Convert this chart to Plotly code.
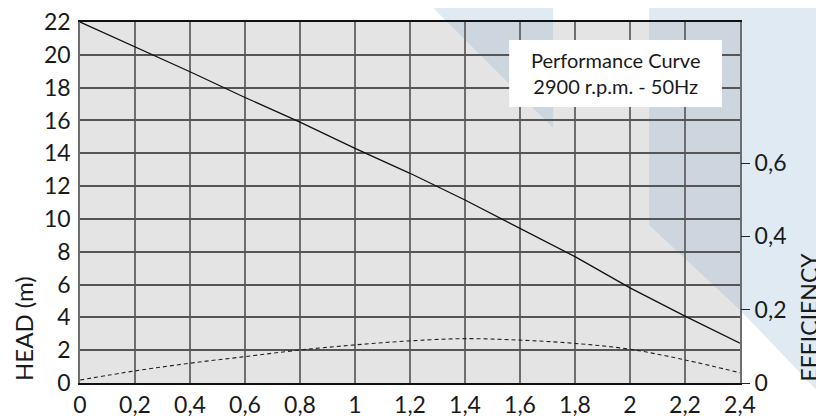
import plotly.graph_objects as go

# ---- data ----
flow = [0, 0.2, 0.4, 0.6, 0.8, 1.0, 1.2, 1.4, 1.6, 1.8, 2.0, 2.2, 2.4]
head = [22, 20.5, 18.97, 17.4, 15.9, 14.3, 12.78, 11.15, 9.43, 7.7, 5.8, 4.08, 2.42]
efficiency = [0.008, 0.033, 0.054, 0.072, 0.090, 0.104, 0.115, 0.121, 0.117, 0.108, 0.092, 0.063, 0.028]

x_tickvals = [0, 0.2, 0.4, 0.6, 0.8, 1.0, 1.2, 1.4, 1.6, 1.8, 2.0, 2.2, 2.4]
x_ticktext = ["0", "0,2", "0,4", "0,6", "0,8", "1", "1,2", "1,4", "1,6", "1,8", "2", "2,2", "2,4"]
y_tickvals = [0, 2, 4, 6, 8, 10, 12, 14, 16, 18, 20, 22]
y2_tickvals = [0, 0.2, 0.4, 0.6]
y2_ticktext = ["0", "0,2", "0,4", "0,6"]

# ---- layout geometry (page body adds an 8px offset) ----
OFF = 8
W, H = 824 - OFF, 416 - OFF
PL, PR, PT, PB = 79.5, 740, 22, 383          # plot edges in window pixels
ML, MR, MT, MB = PL - OFF, W - (PR - OFF), PT - OFF, H - (PB - OFF)
PW, PH = W - ML - MR, H - MT - MB
FONT = "Lato"


def px(x):
    return (x - OFF - ML) / PW


def py(y):
    return (H - MB - (y - OFF)) / PH


def path(pts):
    return "M " + " L ".join(f"{px(a):.4f},{py(b):.4f}" for a, b in pts) + " Z"


BLUE = "#dfeaf3"
BLUE_IN = "#cdd6de"
GRAY = "#e4e4e4"

shapes = [
    dict(type="path", xref="paper", yref="paper", layer="below", line=dict(width=0),
         fillcolor=BLUE, path=path([(430, 5), (553, 5), (553, 128)])),
    dict(type="path", xref="paper", yref="paper", layer="below", line=dict(width=0),
         fillcolor=BLUE, path=path([(649, 5), (828, 5), (828, 402), (740, 310), (649, 225)])),
    dict(type="rect", xref="paper", yref="paper", layer="below", line=dict(width=0),
         fillcolor=GRAY, x0=0, x1=1, y0=0, y1=1),
    dict(type="path", xref="paper", yref="paper", layer="below", line=dict(width=0),
         fillcolor=BLUE_IN, path=path([(447, 22), (553, 22), (553, 128)])),
    dict(type="path", xref="paper", yref="paper", layer="below", line=dict(width=0),
         fillcolor=BLUE_IN, path=path([(649, 22), (740, 22), (740, 310), (649, 225)])),
    dict(type="rect", xref="paper", yref="paper", layer="above", line=dict(width=0),
         fillcolor="white", x0=px(509), x1=px(722), y0=py(107), y1=py(40)),
]

fig = go.Figure()
fig.add_trace(go.Scatter(x=flow, y=head, mode="lines", line=dict(color="#111111", width=1.3),
                         showlegend=False, hoverinfo="skip"))
fig.add_trace(go.Scatter(x=flow, y=efficiency, mode="lines", yaxis="y2", line_shape="spline",
                         line=dict(color="#222222", width=1.1, dash="4px,3px"),
                         showlegend=False, hoverinfo="skip"))

fig.update_layout(
    width=W, height=H,
    margin=dict(l=ML, r=MR, t=MT, b=MB, pad=0, autoexpand=False),
    paper_bgcolor="white",
    plot_bgcolor="rgba(0,0,0,0)",
    font=dict(family=FONT, size=23, color="#1a1a1a"),
    shapes=shapes,
    xaxis=dict(range=[0, 2.4], tickvals=x_tickvals, ticktext=x_ticktext, automargin=False,
               ticklabeloverflow="allow",
               showgrid=True, gridcolor="#6e6e6e", gridwidth=1.6,
               zeroline=False, showline=True, mirror=True, linecolor="#111111", linewidth=1.5,
               ticks="outside", ticklen=1, tickcolor="rgba(0,0,0,0)",
               tickfont=dict(family=FONT, size=23, color="#1a1a1a")),
    yaxis=dict(range=[0, 22], tickvals=y_tickvals, automargin=False,
               ticklabeloverflow="allow",
               showgrid=True, gridcolor="#555555", gridwidth=1.5,
               zeroline=False, showline=True, mirror=True, linecolor="#6e6e6e", linewidth=1.6,
               ticks="outside", ticklen=3, tickcolor="rgba(0,0,0,0)",
               tickfont=dict(family=FONT, size=23, color="#1a1a1a")),
    yaxis2=dict(range=[0, 0.985], overlaying="y", side="right", tickvals=y2_tickvals,
                ticktext=y2_ticktext, automargin=False, ticklabeloverflow="allow",
                showgrid=False, zeroline=False, showline=False,
                ticks="outside", ticklen=9, tickcolor="#222222", tickwidth=1,
                tickfont=dict(family=FONT, size=23, color="#1a1a1a")),
    annotations=[
        dict(text="HEAD (m)", xref="paper", yref="paper", x=px(23), y=0, textangle=-90,
             xanchor="center", yanchor="bottom", showarrow=False,
             font=dict(family=FONT, size=24, color="#1a1a1a")),
        dict(text="EFFICIENCY", xref="paper", yref="paper", x=px(809), y=0, textangle=-90,
             xanchor="center", yanchor="bottom", showarrow=False,
             font=dict(family=FONT, size=23, color="#1a1a1a")),
        dict(text="Performance Curve<br>2900 r.p.m. - 50Hz", xref="paper", yref="paper",
             x=px(615.5), y=py(73.5), xanchor="center", yanchor="middle", showarrow=False,
             align="center", font=dict(family=FONT, size=20, color="#1a1a1a")),
    ],
)

fig.write_html("out.html")
